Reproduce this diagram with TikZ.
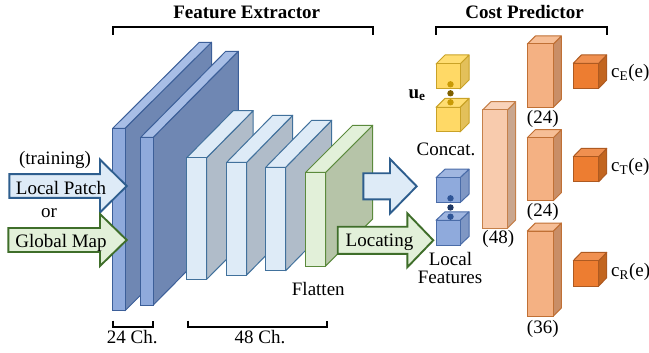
\documentclass[tikz,border=0pt]{standalone}
\usepackage{fontspec}
\setmainfont{Liberation Serif}
\usetikzlibrary{calc}

% colour schemes: F = front, S = side, T = top, L = outline
\definecolor{blF}{HTML}{8FAADC}\definecolor{blS}{HTML}{6F87B3}\definecolor{blT}{HTML}{A8BEE6}\definecolor{blL}{HTML}{3C5F99}
\definecolor{lbF}{HTML}{DEEBF7}\definecolor{lbS}{HTML}{B0BCC9}\definecolor{lbT}{HTML}{DEEBF7}\definecolor{lbL}{HTML}{41719C}
\definecolor{grF}{HTML}{E2F0D9}\definecolor{grS}{HTML}{B6C4A8}\definecolor{grT}{HTML}{E2F0D9}\definecolor{grL}{HTML}{5B8A3C}
\definecolor{yeF}{HTML}{FFD966}\definecolor{yeS}{HTML}{E3C05A}\definecolor{yeT}{HTML}{FFDD72}\definecolor{yeL}{HTML}{C9A227}
\definecolor{bcF}{HTML}{8FAADC}\definecolor{bcS}{HTML}{7F97C4}\definecolor{bcT}{HTML}{A0B6E0}\definecolor{bcL}{HTML}{4A6CA8}
\definecolor{peF}{HTML}{F8CBAD}\definecolor{peS}{HTML}{C9A68E}\definecolor{peT}{HTML}{F9D3BA}\definecolor{peL}{HTML}{C5804A}
\definecolor{coF}{HTML}{F4B183}\definecolor{coS}{HTML}{C98E67}\definecolor{coT}{HTML}{F6BE96}\definecolor{coL}{HTML}{C07035}
\definecolor{orF}{HTML}{ED7D31}\definecolor{orS}{HTML}{C2651F}\definecolor{orT}{HTML}{F09050}\definecolor{orL}{HTML}{AE5A21}
\definecolor{arBF}{HTML}{DEEBF7}\definecolor{arBL}{HTML}{2E5E8E}
\definecolor{arGF}{HTML}{E2F0D9}\definecolor{arGL}{HTML}{3F6E2A}
\definecolor{dotYa}{HTML}{C99A06}\definecolor{dotYb}{HTML}{7F6000}
\definecolor{dotBa}{HTML}{2F5597}\definecolor{dotBb}{HTML}{1F3864}

% box in oblique projection: scheme, x, ytop, ybottom, width, depth dx, depth dy
\newcommand\drawslab[7]{%
  \draw[draw=#1L, fill=#1S, line width=1pt, line join=round]
    (#2+#5,#3) -- (#2+#5+#6,#3-#7) -- (#2+#5+#6,#4-#7) -- (#2+#5,#4) -- cycle;
  \draw[draw=#1L, fill=#1T, line width=1pt, line join=round]
    (#2,#3) -- (#2+#6,#3-#7) -- (#2+#5+#6,#3-#7) -- (#2+#5,#3) -- cycle;
  \draw[draw=#1L, fill=#1F, line width=1pt] (#2,#3) rectangle (#2+#5,#4);
}

% block arrow: scheme, x left, x head base, x tip, y centre, body half-height, head half-height
\newcommand\blockarrow[7]{%
  \draw[draw=#1L, fill=#1F, line width=1.9pt, line join=miter]
    (#2,#5-#6) -- (#3,#5-#6) -- (#3,#5-#7) -- (#4,#5) -- (#3,#5+#7)
    -- (#3,#5+#6) -- (#2,#5+#6) -- cycle;
}

\tikzset{
  lbl/.style={inner sep=0pt, anchor=base, font=\fontsize{19}{22}\selectfont},
  lblw/.style={lbl, anchor=base west},
  ttl/.style={lbl, font=\fontsize{19}{22}\selectfont\bfseries},
  bracket/.style={line width=1.8pt, black},
}

\begin{document}
\begin{tikzpicture}[x=1pt, y=-1pt]
\useasboundingbox (0,0) rectangle (649,353);

% convolution layers
\drawslab{bl}{112.7}{128.3}{310.7}{12.3}{86.5}{86}
\drawslab{bl}{140.7}{137.3}{305}{12.6}{85}{86}
\drawslab{lb}{186.7}{157.7}{279.3}{20}{46.5}{47}
\drawslab{lb}{226.7}{162.3}{275}{20}{46}{47}
\drawslab{lb}{265.7}{167.3}{270.7}{20}{46}{47}
\drawslab{gr}{305.7}{172.3}{266}{20}{47}{47}

% inputs
\blockarrow{arB}{9.3}{100}{126.7}{186}{11.8}{26.5}
\blockarrow{arG}{8.3}{100}{126.7}{240}{12}{26}
\node[lbl] (train) at (55,164.3) {(training)};
\node[lbl] (lptxt) at (61,194.3) {Local Patch};
\node[lbl] (ortxt) at (49,217.3) {or};
\node[lbl] (gmtxt) at (61,247.3) {Global Map};

% flatten / locating
\blockarrow{arB}{363.3}{390}{416.7}{186.3}{13}{27.3}
\blockarrow{arG}{337.7}{407.3}{433.3}{240.3}{13.6}{27}
\node[lbl] (loctxt) at (379.5,246) {Locating};
\node[lbl] (flat) at (318.3,295) {Flatten};

% concatenated vectors
\drawslab{ye}{436}{64}{89}{24}{9}{9}
\drawslab{ye}{436}{107.3}{132}{24}{9}{9}
\fill[dotYa] (450.5,84.3) circle (3.2);
\fill[dotYb] (450.5,93.3) circle (3.2);
\fill[dotYa] (450.5,102.3) circle (3.2);
\node[lblw, font=\fontsize{19}{22}\selectfont\bfseries] (ue) at (408.3,98.3) {u\textsubscript{e}};

\drawslab{bc}{436}{177.7}{202.7}{24}{9}{8.5}
\drawslab{bc}{436}{220.3}{245}{24}{9}{8.5}
\fill[dotBa] (450.5,198.3) circle (3.2);
\fill[dotBb] (450.5,207.5) circle (3.2);
\fill[dotBa] (450.5,216.7) circle (3.2);

\node[lbl] (concat) at (446,155.7) {Concat.};
\node[lbl] (lf1) at (450.5,265) {Local};
\node[lbl] (lf2) at (450,283.3) {Features};

% cost predictor
\drawslab{pe}{482.7}{110}{228.3}{24.6}{8.3}{8.3}
\node[lbl] (n48) at (498.3,243.3) {(48)};

\drawslab{co}{527.3}{44}{107.3}{26}{8}{8}
\drawslab{co}{527.3}{137.7}{200.7}{26}{8}{8}
\drawslab{co}{527.3}{231}{316}{26}{8}{8}
\node[lbl] (n24a) at (542.8,123.3) {(24)};
\node[lbl] (n24b) at (542.8,216.7) {(24)};
\node[lbl] (n36) at (542.8,333.3) {(36)};

\drawslab{or}{573.3}{63.3}{88.3}{25.4}{8}{8.3}
\drawslab{or}{573.3}{156.7}{181.7}{25.4}{8}{8.3}
\drawslab{or}{573.3}{260.7}{286}{25.4}{8}{8.3}
\node[lblw] (cE) at (611,77.3) {c\textsubscript{E}(e)};
\node[lblw] (cT) at (611,171.7) {c\textsubscript{T}(e)};
\node[lblw] (cR) at (611,276.7) {c\textsubscript{R}(e)};

% group brackets and titles
\draw[bracket] (112.7,35) -- (112.7,27.3) -- (372.7,27.3) -- (372.7,35);
\draw[bracket] (435.7,35) -- (435.7,27.3) -- (606.7,27.3) -- (606.7,35);
\node[ttl] (fe) at (246.7,18.5) {Feature Extractor};
\node[ttl] (cp) at (524.5,18.5) {Cost Predictor};

\draw[bracket] (113.3,320.7) -- (113.3,326.7) -- (153.3,326.7) -- (153.3,320.7);
\draw[bracket] (188.3,320.7) -- (188.3,326.7) -- (326.7,326.7) -- (326.7,320.7);
\node[lbl] (ch24) at (132.3,343.5) {24 Ch.};
\node[lbl] (ch48) at (260,343.5) {48 Ch.};
\end{tikzpicture}
\end{document}
